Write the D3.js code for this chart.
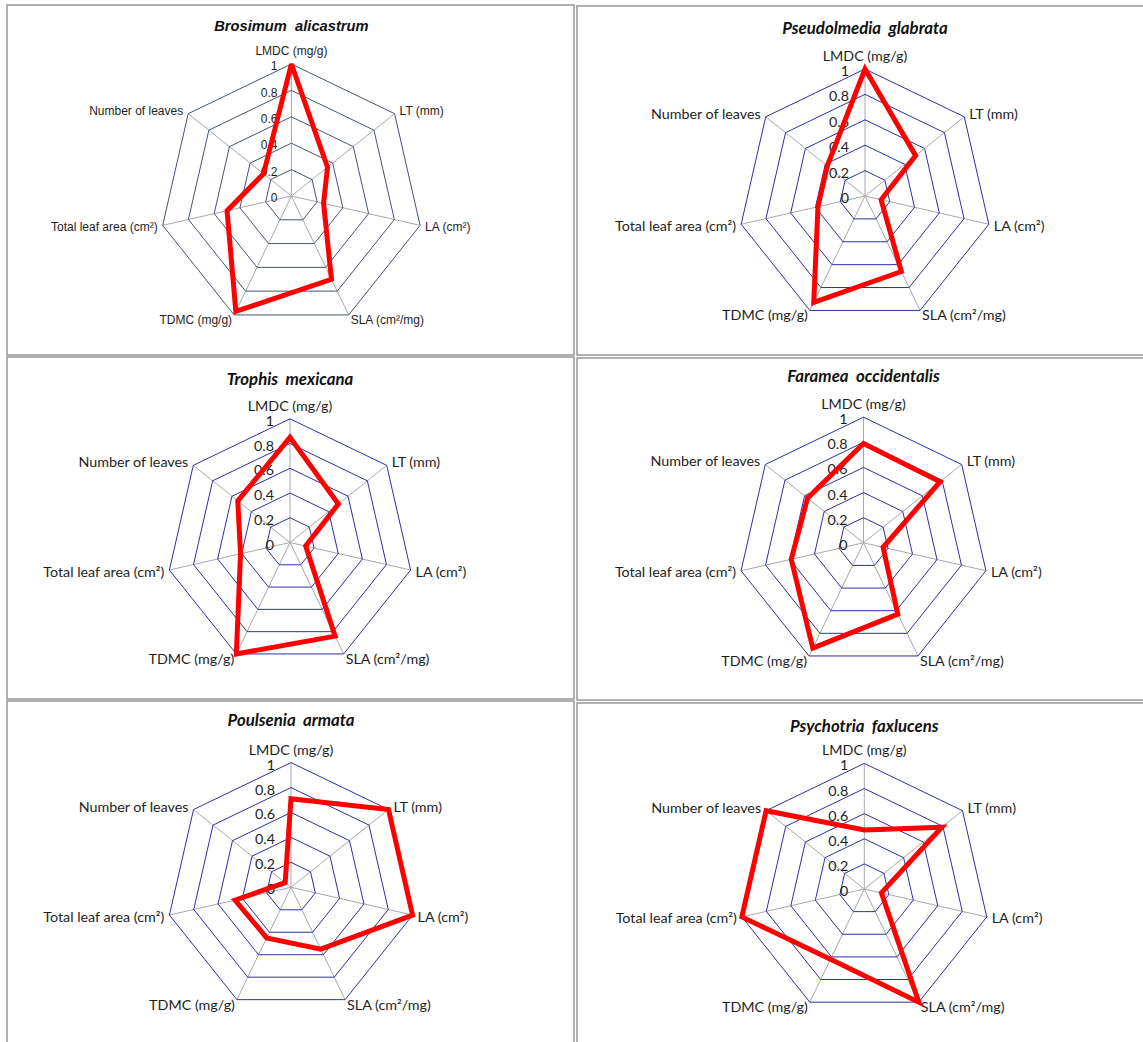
<!DOCTYPE html>
<html>
<head>
<meta charset="utf-8">
<script src="https://cdn.jsdelivr.net/npm/d3@7"></script>
<style>
  body { margin: 0; background: #fff; }
</style>
</head>
<body>
<svg id="chart" width="1143" height="1042"></svg>
<script>
// traits, clockwise from the top
const traits = [
  "LMDC (mg/g)",
  "LT (mm)",
  "LA (cm²)",
  "SLA (cm²/mg)",
  "TDMC (mg/g)",
  "Total leaf area (cm²)",
  "Number of leaves"
];
const species = [
  "Brosimum \u00a0alicastrum",
  "Pseudolmedia \u00a0glabrata",
  "Trophis \u00a0mexicana",
  "Faramea \u00a0occidentalis",
  "Poulsenia \u00a0armata",
  "Psychotria \u00a0faxlucens"
];
const ticks = [0, 0.2, 0.4, 0.6, 0.8, 1];
const tickLabels = ["0", "0.2", "0.4", "0.6", "0.8", "1"];

// relative trait values
const brosimum = [1.0, 0.35, 0.25, 0.70, 0.97, 0.50, 0.27];
const pseudolmedia = [1.0, 0.51, 0.13, 0.66, 0.93, 0.38, 0.38];
const trophis = [0.85, 0.50, 0.13, 0.84, 1.0, 0.41, 0.54];
const faramea = [0.79, 0.78, 0.16, 0.63, 0.93, 0.59, 0.57];
const poulsenia = [0.71, 1.0, 1.0, 0.55, 0.45, 0.46, 0.06];
const psychotria = [0.47, 0.79, 0.14, 1.0, 0.62, 1.0, 1.0];
const seriesValues = [brosimum, pseudolmedia, trophis, faramea, poulsenia, psychotria];

// where each little chart sits on the page
const panels = [
  { x: 7, y: 5, w: 567, h: 350, cx: 291.4, cy: 196, r: 132, titleY: 26, excel2003: true },
  { x: 577, y: 6, w: 580, h: 349, cx: 865, cy: 196, r: 127, titleY: 28 },
  { x: 7, y: 357, w: 567, h: 342, cx: 290, cy: 542.5, r: 123.7, titleY: 379 },
  { x: 577, y: 358, w: 580, h: 342, cx: 863.5, cy: 542.8, r: 125.6, titleY: 376 },
  { x: 7, y: 701, w: 567, h: 360, cx: 291, cy: 887.3, r: 124.7, titleY: 720 },
  { x: 577, y: 703, w: 580, h: 360, cx: 864.3, cy: 889, r: 125.6, titleY: 726 }
];

const svg = d3.select("#chart");
const angle = d3.scaleLinear().domain([0, traits.length]).range([0, 2 * Math.PI]);
const closed = d3.line().curve(d3.curveLinearClosed);

panels.forEach((p, k) => {
  const font = p.excel2003 ? "'Liberation Sans', Arial, sans-serif" : "Lato, 'Open Sans', sans-serif";
  const labelSize = p.excel2003 ? 12 : 14.3;
  const ringColor = p.excel2003 ? "#44566f" : "#2f2fa6";
  const radius = d3.scaleLinear().domain([0, 1]).range([0, p.r]);
  const pt = (i, v) => [
    p.cx + radius(v) * Math.sin(angle(i)),
    p.cy - radius(v) * Math.cos(angle(i))
  ];

  const g = svg.append("g");

  g.append("rect")
    .attr("x", p.x)
    .attr("y", p.y)
    .attr("width", p.w)
    .attr("height", p.h)
    .attr("fill", "none")
    .attr("stroke", "#8f8f8f")
    .attr("stroke-width", 1.4);

  g.selectAll(".spoke")
    .data(traits)
    .join("line")
    .attr("class", "spoke")
    .attr("x1", p.cx)
    .attr("y1", p.cy)
    .attr("x2", (d, i) => pt(i, 1)[0])
    .attr("y2", (d, i) => pt(i, 1)[1])
    .attr("stroke", "#a8a8a8")
    .attr("stroke-width", 1);

  g.selectAll(".ring")
    .data(ticks.filter(t => t > 0))
    .join("path")
    .attr("class", "ring")
    .attr("d", t => closed(traits.map((d, i) => pt(i, t))))
    .attr("fill", "none")
    .attr("stroke", ringColor)
    .attr("stroke-width", 1);

  g.selectAll(".tick")
    .data(ticks)
    .join("text")
    .attr("class", "tick")
    .attr("x", p.cx - (p.excel2003 ? 14 : 16))
    .attr("y", t => p.cy - radius(t) + 2)
    .attr("dy", "0.35em")
    .attr("text-anchor", "end")
    .attr("font-family", font)
    .attr("font-size", labelSize)
    .attr("fill", "#1e1e1e")
    .text((t, i) => tickLabels[i]);

  g.selectAll(".cat")
    .data(traits)
    .join("text")
    .attr("class", "cat")
    .each(function (d, i) {
      const a = angle(i), s = Math.sin(a), c = Math.cos(a);
      const [vx, vy] = pt(i, 1);
      let x = vx, y = vy - 13, anchor = "middle";
      if (Math.abs(s) > 0.01) {
        const side = s > 0 ? 1 : -1;
        anchor = s > 0 ? "start" : "end";
        if (c < -0.8) { x = vx + 2 * side; y = vy + 5; }
        else if (c > 0) { x = vx + 5 * side; y = vy - 3; }
        else { x = vx + 5 * side; y = vy + 1.5; }
      }
      d3.select(this)
        .attr("x", x)
        .attr("y", y)
        .attr("text-anchor", anchor);
    })
    .attr("dy", "0.35em")
    .attr("font-family", font)
    .attr("font-size", labelSize)
    .attr("fill", "#1e1e1e")
    .text(d => d);

  g.append("path")
    .attr("d", closed(seriesValues[k].map((v, i) => pt(i, v))))
    .attr("fill", "none")
    .attr("stroke", "#ff0000")
    .attr("stroke-width", 5)
    .attr("stroke-linejoin", "miter")
    .attr("stroke-miterlimit", 3);

  g.append("text")
    .attr("x", p.cx)
    .attr("y", p.titleY)
    .attr("dy", "0.35em")
    .attr("text-anchor", "middle")
    .attr("font-family", font)
    .attr("font-size", p.excel2003 ? 14.7 : 16.8)
    .attr("font-weight", "bold")
    .attr("font-style", "italic")
    .attr("fill", "#111")
    .text(species[k]);
});
</script>
</body>
</html>
